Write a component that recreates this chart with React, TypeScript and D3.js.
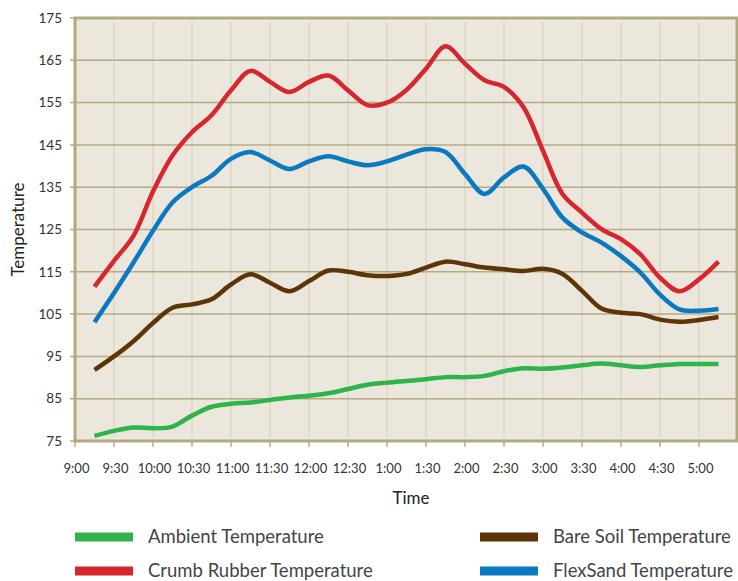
import * as d3 from "d3";

// ── Data ──────────────────────────────────────────────────────────────────────

const TICK_LABELS = [
  "9:00", "9:30", "10:00", "10:30", "11:00", "11:30", "12:00", "12:30",
  "1:00", "1:30", "2:00", "2:30", "3:00", "3:30", "4:00", "4:30", "5:00",
];

// minutes after 9:00 (readings every 15 min, 9:15 to 5:15)
const MINUTES = [
  15, 30, 45, 60, 75, 90, 105, 120, 135, 150, 165, 180, 195, 210, 225, 240, 255,
  270, 285, 300, 315, 330, 345, 360, 375, 390, 405, 420, 435, 450, 465, 480, 495,
];

const AMBIENT = [
  76.2, 77.4, 78.2, 78.0, 78.4, 81.0, 83.1, 83.8, 84.1, 84.7, 85.3, 85.7, 86.3,
  87.3, 88.3, 88.8, 89.2, 89.6, 90.1, 90.1, 90.4, 91.5, 92.2, 92.1, 92.4, 92.9,
  93.3, 92.9, 92.5, 92.9, 93.2, 93.2, 93.2,
];

const BARE_SOIL = [
  91.8, 95.0, 98.6, 102.9, 106.5, 107.3, 108.5, 112.0, 114.4, 112.4, 110.4, 112.8,
  115.3, 115.0, 114.2, 114.0, 114.5, 116.0, 117.4, 116.8, 116.0, 115.6, 115.2,
  115.7, 114.5, 110.5, 106.3, 105.3, 105.0, 103.7, 103.2, 103.6, 104.3,
];

const CRUMB_RUBBER = [
  111.5, 117.6, 123.5, 134.0, 142.5, 148.0, 152.0, 157.9, 162.5, 159.9, 157.5,
  159.9, 161.4, 157.9, 154.4, 155.0, 158.0, 163.0, 168.3, 164.2, 160.3, 158.7,
  153.9, 143.6, 133.4, 129.0, 125.1, 122.7, 119.1, 113.6, 110.4, 113.2, 117.4,
];

const FLEXSAND = [
  103.1, 110.0, 117.2, 124.7, 131.4, 135.0, 137.7, 141.7, 143.3, 141.3, 139.3,
  141.1, 142.3, 141.1, 140.2, 141.1, 142.7, 144.0, 143.3, 138.1, 133.4, 137.3,
  139.9, 134.6, 127.8, 124.3, 121.9, 118.7, 114.8, 109.6, 106.1, 105.8, 106.2,
];

const Y_TICKS = [75, 85, 95, 105, 115, 125, 135, 145, 155, 165, 175];

// ── Config ────────────────────────────────────────────────────────────────────

const W = 738;
const H = 581;
const PLOT = { left: 75, right: 737, top: 18, bottom: 441 };
const FONT = "Lato, 'Open Sans', sans-serif";

const SERIES = [
  { name: "Ambient Temperature",       values: AMBIENT,      color: "#2fb34b" },
  { name: "Bare Soil Temperature",     values: BARE_SOIL,    color: "#5e3507" },
  { name: "Crumb Rubber Temperature",  values: CRUMB_RUBBER, color: "#d6262e" },
  { name: "FlexSand Temperature",      values: FLEXSAND,     color: "#0b79c1" },
];

// ── Component ─────────────────────────────────────────────────────────────────

export default function App() {
  const x = d3.scaleLinear().domain([0, 510]).range([PLOT.left, 738]);
  const y = d3.scaleLinear().domain([75, 175]).range([PLOT.bottom, PLOT.top]);

  const line = d3.line<[number, number]>()
    .x((d) => x(d[0]))
    .y((d) => y(d[1]))
    .curve(d3.curveCatmullRom.alpha(0.5));

  const tickMins = TICK_LABELS.map((_, i) => i * 30);

  // legend layout: two columns, two rows
  const legendPos = [
    { sx: 75,  ty: 537 },
    { sx: 480, ty: 537 },
    { sx: 75,  ty: 571 },
    { sx: 480, ty: 571 },
  ];

  return (
    <svg
      width={W}
      height={H}
      style={{ position: "absolute", left: 0, top: 0, display: "block" }}
      fontFamily={FONT}
    >
      <rect x={0} y={0} width={W} height={H} fill="#ffffff" />

      {/* plot background */}
      <rect
        x={PLOT.left}
        y={PLOT.top}
        width={PLOT.right - PLOT.left}
        height={PLOT.bottom - PLOT.top}
        fill="#ebe7dd"
      />

      {/* vertical grid */}
      {tickMins.slice(1).map((m) => (
        <line
          key={"vg" + m}
          x1={x(m)}
          x2={x(m)}
          y1={PLOT.top + 4}
          y2={PLOT.bottom - 4}
          stroke="#dcd6c2"
          strokeWidth={1.5}
        />
      ))}

      {/* horizontal grid + left ticks */}
      {Y_TICKS.map((t) => (
        <line
          key={"hg" + t}
          x1={PLOT.left - 5}
          x2={PLOT.right}
          y1={y(t)}
          y2={y(t)}
          stroke="#b5ab82"
          strokeWidth={1.5}
        />
      ))}

      {/* bottom ticks */}
      {tickMins.map((m) => (
        <line
          key={"xt" + m}
          x1={x(m)}
          x2={x(m)}
          y1={PLOT.bottom}
          y2={PLOT.bottom + 6}
          stroke="#b5ab82"
          strokeWidth={1.5}
        />
      ))}

      {/* border */}
      <rect
        x={PLOT.left}
        y={PLOT.top}
        width={PLOT.right - PLOT.left}
        height={PLOT.bottom - PLOT.top}
        fill="none"
        stroke="#b3a97e"
        strokeWidth={3}
      />

      {/* series */}
      {SERIES.map((s) => (
        <path
          key={s.name}
          d={line(MINUTES.map((m, i) => [m, s.values[i]] as [number, number])) ?? ""}
          fill="none"
          stroke={s.color}
          strokeWidth={4.5}
        />
      ))}

      {/* y tick labels */}
      {Y_TICKS.map((t) => (
        <text
          key={"yl" + t}
          x={62}
          y={y(t)}
          dy="0.35em"
          textAnchor="end"
          fontSize={13.5}
          fill="#333"
        >
          {t}
        </text>
      ))}

      {/* x tick labels */}
      {TICK_LABELS.map((lab, i) => (
        <text
          key={"xl" + i}
          x={x(tickMins[i]) + 1.5}
          y={468}
          dy="0.35em"
          textAnchor="middle"
          fontSize={13}
          fill="#333"
        >
          {lab}
        </text>
      ))}

      {/* axis titles */}
      <text
        transform={`translate(18,${(PLOT.top + PLOT.bottom) / 2}) rotate(-90)`}
        textAnchor="middle"
        dy="0.35em"
        fontSize={17}
        fill="#222"
      >
        Temperature
      </text>
      <text x={411} y={498} dy="0.35em" textAnchor="middle" fontSize={17} fill="#222">
        Time
      </text>

      {/* legend */}
      {SERIES.map((s, i) => {
        const p = legendPos[i];
        return (
          <g key={"lg" + s.name}>
            <rect x={p.sx} y={p.ty - 4.5} width={58} height={9} fill={s.color} />
            <text
              x={p.sx + 73}
              y={p.ty}
              dy="0.35em"
              fontSize={18.5}
              fill="#444"
            >
              {s.name}
            </text>
          </g>
        );
      })}
    </svg>
  );
}
